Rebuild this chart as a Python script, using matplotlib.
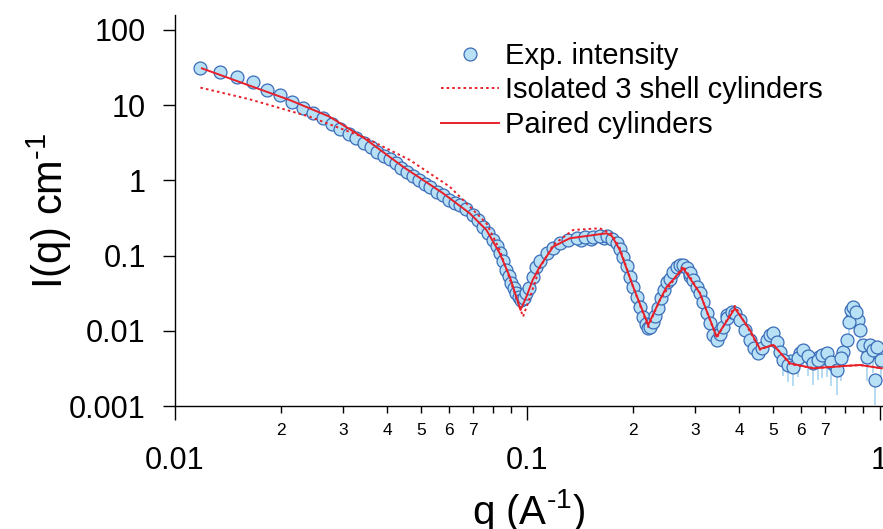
import numpy as np
import matplotlib
matplotlib.use("Agg")
import matplotlib.pyplot as plt
from matplotlib.ticker import FixedLocator, FixedFormatter, NullLocator

plt.rcParams['font.family'] = ['Liberation Sans', 'DejaVu Sans']
plt.rcParams['mathtext.fontset'] = 'custom'
plt.rcParams['mathtext.rm'] = 'Liberation Sans'
plt.rcParams['mathtext.default'] = 'regular'

q_exp = [0.01181, 0.01338, 0.01502, 0.01663, 0.01823, 0.01990, 0.02147, 0.02307,
         0.02464, 0.02630, 0.02790, 0.02946, 0.03112, 0.03272, 0.03439, 0.03593,
         0.03753, 0.03911, 0.04068, 0.04230, 0.04390, 0.04554, 0.04737, 0.04926,
         0.05115, 0.05309, 0.05543, 0.05766, 0.05997, 0.06223, 0.06430, 0.06688,
         0.07015, 0.07235, 0.07488, 0.07723, 0.07994, 0.08191, 0.08353, 0.08518,
         0.08727, 0.08858, 0.09017, 0.09153, 0.09317, 0.09457, 0.09627, 0.09772,
         0.09947, 0.1010, 0.1039, 0.1062, 0.1085, 0.1134, 0.1181, 0.1237,
         0.1303, 0.1380, 0.1457, 0.1538, 0.1607, 0.1679, 0.1738, 0.1792,
         0.1831, 0.1871, 0.1913, 0.1955, 0.1998, 0.2043, 0.2087, 0.2133,
         0.2171, 0.2204, 0.2236, 0.2273, 0.2310, 0.2348, 0.2395, 0.2442,
         0.2490, 0.2540, 0.2599, 0.2659, 0.2712, 0.2775, 0.2839, 0.2895,
         0.2963, 0.3030, 0.3091, 0.3162, 0.3236, 0.3300, 0.3376, 0.3448,
         0.3524, 0.3599, 0.3688, 0.3803, 0.3886, 0.4015, 0.4148, 0.4286,
         0.4400, 0.4527, 0.4637, 0.4782, 0.4886, 0.4993, 0.5114, 0.5215,
         0.5329, 0.5495, 0.5690, 0.5868, 0.6075, 0.6265, 0.6486, 0.6688,
         0.6865, 0.7079, 0.7281, 0.7556, 0.7771, 0.8067, 0.8190, 0.8299,
         0.8426, 0.8577, 0.8805, 0.8979, 0.9195, 0.9397, 0.9603, 0.9710,
         0.9818, 1.0065]
I_exp = [31.5, 27.9, 23.5, 20.2, 15.9, 13.5, 11.1, 9.10,
         7.80, 6.70, 5.62, 4.83, 4.14, 3.63, 3.17, 2.75,
         2.39, 2.11, 1.91, 1.69, 1.475, 1.305, 1.144, 1.012,
         0.896, 0.809, 0.708, 0.640, 0.549, 0.508, 0.471, 0.417,
         0.347, 0.297, 0.242, 0.200, 0.161, 0.134, 0.107, 0.0848,
         0.0644, 0.0536, 0.0428, 0.0371, 0.0315, 0.0281, 0.0257, 0.0273,
         0.0315, 0.0371, 0.0524, 0.0712, 0.0848, 0.1073, 0.1262, 0.1457,
         0.1612, 0.1698, 0.1740, 0.1745, 0.1795, 0.1823, 0.1662, 0.1457,
         0.1224, 0.0967, 0.0727, 0.0524, 0.0388, 0.0284, 0.0209, 0.01539,
         0.01231, 0.01079, 0.01123, 0.01309, 0.01573, 0.0201, 0.0273, 0.0349,
         0.0446, 0.0489, 0.0605, 0.0695, 0.0750, 0.0741, 0.0674, 0.0581,
         0.0474, 0.0382, 0.0315, 0.0238, 0.0170, 0.01258, 0.00879, 0.00754,
         0.00906, 0.01134, 0.01480, 0.01795, 0.01725, 0.01391, 0.01025, 0.00754,
         0.00591, 0.00502, 0.00591, 0.00754, 0.00879, 0.00926, 0.00710, 0.00523,
         0.00409, 0.00351, 0.00333, 0.00435, 0.00556, 0.00462, 0.00370, 0.00409,
         0.00477, 0.00502, 0.00385, 0.00301, 0.00435, 0.00754, 0.01309, 0.01891,
         0.0209, 0.0178, 0.01025, 0.00648, 0.00452, 0.00648, 0.00556, 0.00222,
         0.00614, 0.00409]
# lower error bars, only visible for the last (noisy) points
err_start = 110
I_err_tail = [0.0025, 0.0018, 0.0016, 0.0014, 0.0015, 0.0019, 0.0022, 0.0021,
              0.0018, 0.0019, 0.0024, 0.0026, 0.0020, 0.0016, 0.0022, 0.0030,
              0.0040, 0.0050, 0.0055, 0.0050, 0.0040, 0.0030, 0.0024, 0.0030,
              0.0028, 0.0012, 0.0030, 0.0022]

# extra scattered points in the noisy high-q cloud
q_cloud = [0.1420, 0.1520, 0.1650, 0.2900, 0.3700, 0.5600, 0.5950, 0.6150,
           0.6400, 0.6750, 0.7000, 0.7400, 0.7900, 0.8350, 0.8700, 0.9300,
           0.9900]
I_cloud = [0.1620, 0.1640, 0.1700, 0.0530, 0.0160, 0.00400, 0.00500, 0.00480,
           0.00420, 0.00450, 0.00440, 0.00360, 0.00520, 0.01500, 0.01400, 0.00560,
           0.00500]

# ----- model: isolated 3 shell cylinders (dotted)
q_iso = [0.01181, 0.01628, 0.02410, 0.03493, 0.04636, 0.06025, 0.06719, 0.07658,
         0.08353, 0.09036, 0.09729, 0.1016, 0.1085, 0.1184, 0.1349, 0.1607,
         0.1738, 0.1831, 0.1998, 0.2204, 0.2379, 0.2772, 0.3091, 0.3448,
         0.3886, 0.4286, 0.4577, 0.4993, 0.5568, 0.6486, 0.8805, 1.0146]
I_iso = [17.1, 11.98, 7.03, 3.63, 1.87, 0.824, 0.496, 0.269,
         0.1187, 0.0407, 0.01539, 0.0273, 0.0684, 0.1384, 0.219, 0.2307,
         0.1937, 0.1262, 0.0382, 0.01123, 0.0257, 0.0727, 0.0318, 0.00802,
         0.0214, 0.0098, 0.0056, 0.0066, 0.0036, 0.0032, 0.0035, 0.0032]

# ----- model: paired cylinders (solid)
q_pair = [0.01192, 0.01628, 0.02115, 0.02747, 0.03454, 0.04437, 0.05766, 0.06865,
          0.07658, 0.08353, 0.08918, 0.09275, 0.09565, 0.09947, 0.1036, 0.1085,
          0.1184, 0.1320, 0.1679, 0.1738, 0.1831, 0.1998, 0.2204, 0.2379,
          0.2485, 0.2772, 0.3091, 0.3448, 0.3886, 0.4286, 0.4577, 0.4993,
          0.5568, 0.6486, 0.7895, 0.8805, 1.0146]
I_pair = [30.9, 18.2, 11.72, 7.03, 3.61, 1.52, 0.674, 0.365,
          0.219, 0.1073, 0.0524, 0.0299, 0.0189, 0.0284, 0.0474, 0.0712,
          0.1313, 0.1698, 0.1980, 0.1823, 0.1187, 0.0386, 0.01194, 0.0257,
          0.0382, 0.0678, 0.0315, 0.00835, 0.0199, 0.01025, 0.00573, 0.00648,
          0.00370, 0.00317, 0.00340, 0.00351, 0.00317]

x_major = [0.01, 0.1, 1]
x_major_labels = ['0.01', '0.1', '1']
x_minor = [k * d for d in (0.01, 0.1) for k in range(2, 10)]
x_minor_labels = [str(k) if k <= 7 else '' for d in (0.01, 0.1) for k in range(2, 10)]
y_major = [0.001, 0.01, 0.1, 1, 10, 100]
y_major_labels = ['0.001', '0.01', '0.1', '1', '10', '100']

# ----- PLOT -----
fig = plt.figure(figsize=(8.83, 5.29), dpi=100)
ax = fig.add_axes([0.1982, 0.2325, 0.8018, 0.7391])

red = '#e8202a'
face = '#b9e1f5'
edge = '#3a6cb8'

q_err = np.array(q_exp[err_start:])
I_err_pts = np.array(I_exp[err_start:])
err = np.array(I_err_tail)
ax.errorbar(q_err, I_err_pts, yerr=[err, np.zeros_like(err)], fmt='none',
            ecolor='#a9d6f0', elinewidth=1.2, capsize=0, zorder=1)

ax.plot(q_cloud, I_cloud, 'o', ms=9.3, mfc=face, mec=edge, mew=0.9, zorder=2)
ax.plot(q_exp, I_exp, 'o', ms=9.3, mfc=face, mec=edge, mew=0.9,
        label='Exp. intensity', zorder=2)
ax.plot(q_iso, I_iso, color=red, lw=1.4, linestyle=(0, (1.3, 1.6)),
        label='Isolated 3 shell cylinders', zorder=3)
ax.plot(q_pair, I_pair, color=red, lw=1.4,
        label='Paired cylinders', zorder=4)

ax.set_xscale('log')
ax.set_yscale('log')
ax.set_xlim(0.01, 1.023)
ax.set_ylim(0.001, 158)

ax.xaxis.set_major_locator(FixedLocator(x_major))
ax.xaxis.set_major_formatter(FixedFormatter(x_major_labels))
ax.xaxis.set_minor_locator(FixedLocator(x_minor))
ax.xaxis.set_minor_formatter(FixedFormatter(x_minor_labels))
ax.yaxis.set_major_locator(FixedLocator(y_major))
ax.yaxis.set_major_formatter(FixedFormatter(y_major_labels))
ax.yaxis.set_minor_locator(NullLocator())

ax.tick_params(axis='x', which='major', length=10, width=1, pad=19, labelsize=22)
ax.tick_params(axis='x', which='minor', length=5, width=1, pad=7, labelsize=12.5)
ax.tick_params(axis='y', which='major', length=9, width=1, pad=12, labelsize=22)

for s in ('top', 'right'):
    ax.spines[s].set_visible(False)
for s in ('left', 'bottom'):
    ax.spines[s].set_linewidth(1)

ax.set_xlabel(r'q (A$^{\text{-}1}$)', fontsize=29, labelpad=8)
ax.set_ylabel(r'I(q) cm$^{\text{-}1}$', fontsize=30)
ax.yaxis.set_label_coords(-0.142, 0.5)

ax.legend(loc='upper left', bbox_to_anchor=(441 / 883, 1 - 42 / 529),
          bbox_transform=fig.transFigure, frameon=False, fontsize=21,
          borderpad=0, borderaxespad=0, handlelength=2.0, handletextpad=0.2,
          labelspacing=0.22)

fig.savefig('out.png', dpi=100)
